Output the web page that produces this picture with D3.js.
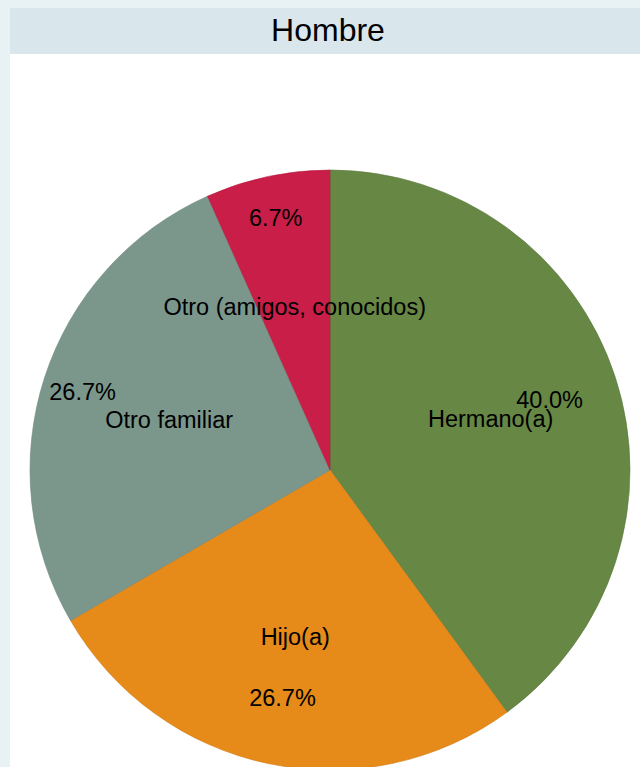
<!DOCTYPE html>
<html lang="es">
<head>
<meta charset="UTF-8">
<script src="https://d3js.org/d3.v7.min.js"></script>
<title>Hombre</title>
<style>
  html, body { margin: 0; padding: 0; background: #e8f1f3; }
  svg { display: block; font-family: "Liberation Sans", Arial, sans-serif; }
</style>
</head>
<body>
<svg id="chart" width="640" height="767"></svg>
<script>
// datos
var categorias = ["Hermano(a)", "Hijo(a)", "Otro familiar", "Otro (amigos, conocidos)"];
var porcentajes = [40.0, 26.7, 26.7, 6.7];
var colores = ["#678744", "#e68a19", "#7b978c", "#c81e48"];
var titulo = "Hombre";

var W = 640, H = 767;
var svg = d3.select("#chart");

// fondo exterior, barra de titulo y region del grafico
svg.append("rect").attr("width", W).attr("height", H).attr("fill", "#e8f1f3");
svg.append("rect").attr("x", 10).attr("y", 8).attr("width", W - 10).attr("height", 46).attr("fill", "#d9e6ec");
svg.append("rect").attr("x", 10).attr("y", 54).attr("width", W - 10).attr("height", H - 54).attr("fill", "#fff");

svg.append("text")
  .attr("x", 328).attr("y", 41)
  .attr("text-anchor", "middle")
  .attr("font-size", "32px")
  .attr("fill", "#000")
  .text(titulo);

// pastel
var cx = 330, cy = 470, R = 300;

var pie = d3.pie().sort(null).value(function(d) { return d; });
var arcs = pie(porcentajes);
var arc = d3.arc().innerRadius(0).outerRadius(R);

var clip = svg.append("clipPath").attr("id", "plot");
clip.append("rect").attr("x", 10).attr("y", 54).attr("width", W - 10).attr("height", H - 54);

var g = svg.append("g")
  .attr("clip-path", "url(#plot)")
  .append("g")
  .attr("transform", "translate(" + cx + "," + cy + ")");

g.selectAll("path")
  .data(arcs)
  .enter()
  .append("path")
  .attr("d", arc)
  .attr("fill", function(d, i) { return colores[i]; })
  .attr("stroke", function(d, i) { return d3.color(colores[i]).darker(0.3); })
  .attr("stroke-width", 0.6);

// etiquetas de categoria
function pos(d, r) {
  var a = (d.startAngle + d.endAngle) / 2;
  return [r * Math.sin(a), -r * Math.cos(a)];
}

g.selectAll("text.cat")
  .data(arcs)
  .enter()
  .append("text")
  .attr("class", "cat")
  .attr("x", function(d) { return pos(d, 169)[0]; })
  .attr("y", function(d) { return pos(d, 169)[1]; })
  .attr("dy", "0.42em")
  .attr("text-anchor", "middle")
  .attr("font-size", "23.5px")
  .text(function(d, i) { return categorias[i]; });

// etiquetas de porcentaje (las de la izquierda van mas afuera)
g.selectAll("text.pct")
  .data(arcs)
  .enter()
  .append("text")
  .attr("class", "pct")
  .attr("x", function(d) { return pos(d, d.index < 2 ? 231 : 260)[0]; })
  .attr("y", function(d) { return pos(d, d.index < 2 ? 231 : 260)[1]; })
  .attr("dy", "0.42em")
  .attr("text-anchor", "middle")
  .attr("font-size", "23.5px")
  .text(function(d) { return d3.format(".1f")(d.data) + "%"; });
</script>
</body>
</html>
